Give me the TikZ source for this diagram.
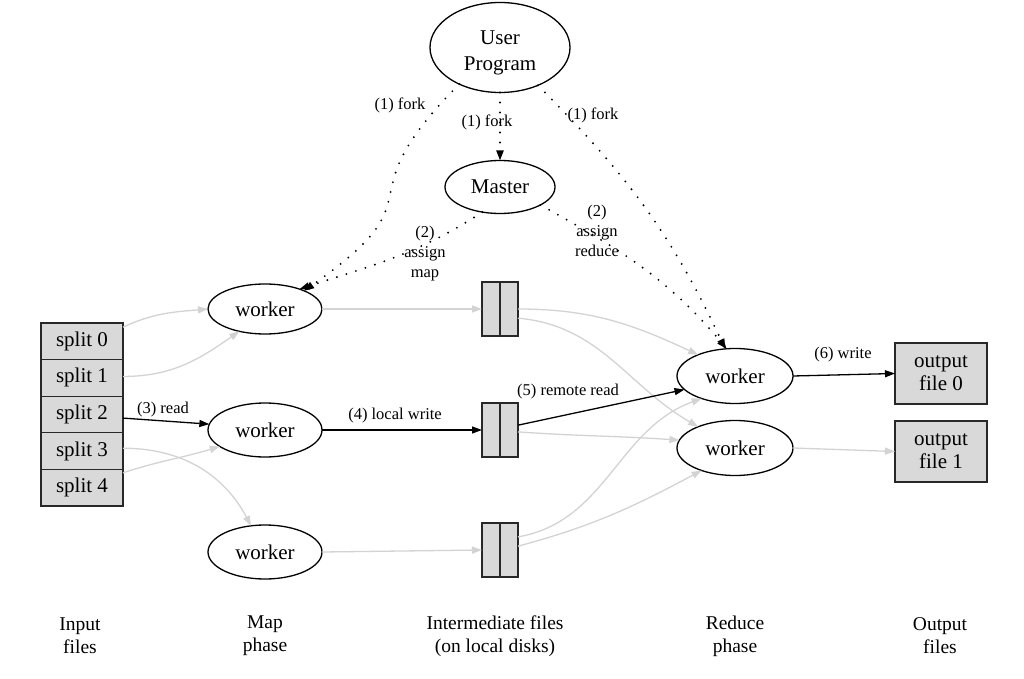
\documentclass[tikz,border=0pt]{standalone}
\usepackage{fontspec}
\setmainfont{Liberation Serif}
\usetikzlibrary{arrows.meta,shapes.geometric}
\definecolor{boxfill}{RGB}{217,217,217}
\definecolor{edgegray}{RGB}{211,211,211}
\definecolor{boxline}{RGB}{40,40,40}
\begin{document}
\begin{tikzpicture}[x=1pt,y=1pt,
  every node/.style={inner sep=0pt,outer sep=0pt,align=center},
  procnode/.style={draw,ellipse,line width=1.3pt,font=\fontsize{21}{25}\selectfont},
  splitbox/.style={draw=boxline,fill=boxfill,line width=1.3pt,minimum width=82pt,minimum height=36.6pt,font=\fontsize{21}{24}\selectfont},
  filebox/.style={draw=boxline,fill=boxfill,line width=1.3pt,minimum width=36pt,minimum height=54pt},
  outbox/.style={draw=boxline,fill=boxfill,line width=1.3pt,minimum width=92pt,minimum height=61pt,font=\fontsize{21}{23}\selectfont},
  edgelbl/.style={font=\fontsize{16.5}{20}\selectfont},
  phaselbl/.style={font=\fontsize{19.5}{23}\selectfont},
  blk/.style={line width=1.3pt,-{Triangle[length=10pt,width=7pt]}},
  gry/.style={draw=edgegray,line width=1.3pt,-{Triangle[length=10pt,width=7pt]}},
  dots/.style={line width=2.1pt,line cap=round,dash pattern=on 0pt off 10pt,-{Triangle[length=10pt,width=7pt]}}
]
\useasboundingbox (0,0) rectangle (1024,678);

% nodes
\node[procnode,minimum width=140pt,minimum height=90pt] (UP) at (500,630.5)
  {\raisebox{-5pt}[\height][\depth]{\begin{tabular}{@{}c@{}}User\\[1pt]Program\end{tabular}}};
\node[procnode,minimum width=110pt,minimum height=53pt] (M) at (500,491) {Master};
\node[procnode,minimum width=114pt,minimum height=50pt] (w1) at (265,369) {worker};
\node[procnode,minimum width=114pt,minimum height=54pt] (w2) at (265,248) {worker};
\node[procnode,minimum width=114pt,minimum height=54pt] (w3) at (265,126) {worker};
\node[procnode,minimum width=116pt,minimum height=55pt] (r1) at (735,302) {worker};
\node[procnode,minimum width=116pt,minimum height=55pt] (r2) at (735,230) {worker};

\node[splitbox] (sp0) at (82,336.7) {split 0};
\node[splitbox] (sp1) at (82,300.1) {split 1};
\node[splitbox] (sp2) at (82,263.5) {split 2};
\node[splitbox] (sp3) at (82,226.9) {split 3};
\node[splitbox] (sp4) at (82,190.3) {split 4};

\node[filebox] (f1) at (500,369) {};
\node[filebox] (f2) at (500,248) {};
\node[filebox] (f3) at (500,128) {};
\foreach \f in {f1,f2,f3} \draw[boxline,line width=1.3pt] (\f.north) -- (\f.south);

\node[outbox] (o0) at (941,304.5) {output\\file 0};
\node[outbox] (o1) at (941,226.5) {output\\file 1};

% phase labels
\node[phaselbl] (p1) at (80,42) {Input\\files};
\node[phaselbl] (p2) at (265,42) {Map\\phase};
\node[phaselbl] (p3) at (495,42) {Intermediate files\\(on local disks)};
\node[phaselbl] (p4) at (735,42) {Reduce\\phase};
\node[phaselbl] (p5) at (940,42) {Output\\files};

% gray edges
\draw[gry] (sp0.19) to[out=25,in=185] (w1.west);
\draw[gry] (sp1.2) to[out=0,in=215] (w1.221);
\draw[gry] (sp3.4) to[out=0,in=118] (w3.118);
\draw[gry] (sp4.20) to[out=18,in=197] (w2.200);
\draw[gry] (w1.east) -- (f1.west);
\draw[gry] (w3.east) -- (f3.west);
\draw[gry] (f1.east) to[out=0,in=155] (r1.150);
\draw[gry] (f1.-27) to[out=-5,in=150] (r2.150);
\draw[gry] (f2.-6) to[out=-4,in=176] (r2.172);
\draw[gry] (f3.36) to[out=10,in=200] (r1.214);
\draw[gry] (f3.12) to[out=15,in=208] (r2.214);
\draw[gry] (r2.east) -- (o1.west);

% black edges
\draw[blk] (sp2.-5) -- (w2.174);
\node[edgelbl] (l3) at (163,268) {(3) read};
\draw[blk] (w2.east) -- (f2.west);
\node[edgelbl] (l4) at (395,262) {(4) local write};
\draw[blk] (f2.15) -- (r1.195);
\node[edgelbl] (l5) at (568,286) {(5) remote read};
\draw[blk] (r1.east) -- (o0.west);
\node[edgelbl] (l6) at (843,323) {(6) write};

% dotted edges
\draw[dots] (UP.222) to[out=225,in=35,looseness=1.7] (w1.25);
\node[edgelbl] (l1a) at (400,573) {(1) fork};
\draw[dots] (UP.south) -- (M.north);
\node[edgelbl] (l1b) at (487,556) {(1) fork};
\draw[dots] (UP.-45) to[out=-45,in=115] (r1.110);
\node[edgelbl] (l1c) at (593,563) {(1) fork};
\draw[dots] (M.235) to[out=213,in=18] (w1.30);
\node[edgelbl] (l2a) at (425,424) {(2)\\assign\\map};
\draw[dots] (M.-24) to[out=-29,in=130] (r1.107);
\node[edgelbl] (l2b) at (597,447) {(2)\\assign\\reduce};
\end{tikzpicture}
\end{document}
